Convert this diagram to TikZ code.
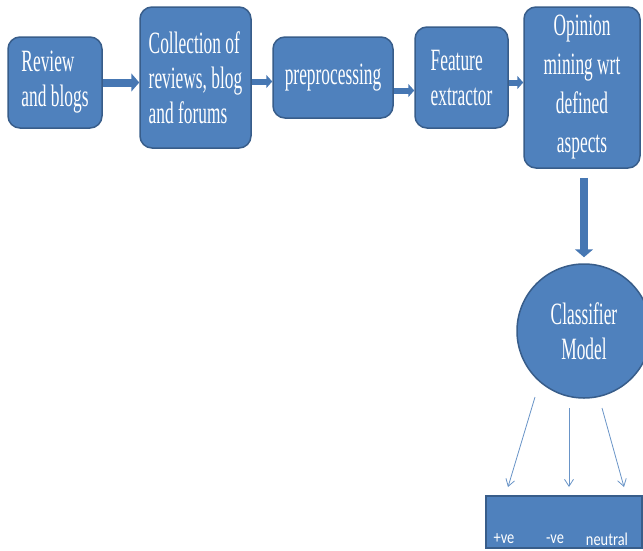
\documentclass[tikz,border=0pt]{standalone}
\usepackage{fontspec}
\usepackage{tikz}
\usetikzlibrary{arrows.meta,positioning,calc}
\newfontfamily\boxfont[FakeStretch=0.56]{Liberation Serif}
\newfontfamily\tagfont[FakeStretch=0.8]{Carlito}
\definecolor{boxblue}{HTML}{4F81BD}
\definecolor{edgeblue}{HTML}{385D8A}
\definecolor{flowblue}{HTML}{4677B3}

\begin{document}
\begin{tikzpicture}[x=1pt,y=-1pt,>=Latex,
  stage/.style={draw=edgeblue,line width=1.5pt,fill=boxblue,rounded corners=12pt,
    text=white,font=\boxfont\fontsize{31}{35}\selectfont,align=left,inner sep=0pt},
  bigflow/.style={draw=flowblue,line width=8pt,-{Triangle[length=8pt,width=18pt]}},
  flow/.style={draw=flowblue,line width=6pt,-{Triangle[length=6pt,width=13pt]}},
  split/.style={draw=boxblue!85,line width=0.8pt,-{Straight Barb[length=7pt,width=9pt]}},
  tag/.style={text=white,font=\tagfont\fontsize{18}{19}\selectfont,inner sep=0pt}]
  \useasboundingbox (0,0) rectangle (643,550);
  % Pipeline
  \node[stage,minimum width=94pt,minimum height=91pt] (review) at (55,82.5) {Review\\and blogs};
  \node[stage,minimum width=111pt,minimum height=141pt] (collect) at (195.5,77.5) {Collection of\\reviews, blog\\and forums};
  \node[stage,minimum width=120pt,minimum height=81pt] (prep) at (333,77.5) {preprocessing};
  \node[stage,minimum width=93pt,minimum height=101pt] (feat) at (461.5,77.5) {Feature\\extractor};
  \node[stage,align=center,font=\boxfont\fontsize{31}{39}\selectfont,
    minimum width=116pt,minimum height=161pt] (opinion) at (582,87.5) {Opinion\\mining wrt\\defined\\aspects};
  \coordinate (c2) at ([yshift=-4pt]collect.east);
  \coordinate (c3) at ([yshift=-13pt]prep.east);
  \coordinate (c4) at ([yshift=-5pt]feat.east);
  \draw[bigflow] (review.east) -- (review.east -| collect.west);
  \draw[flow] (c2) -- (c2 -| prep.west);
  \draw[flow] (c3) -- (c3 -| feat.west);
  \draw[flow] (c4) -- (c4 -| opinion.west);
  % Classifier
  \node[stage,circle,rounded corners=0pt,align=center,minimum size=134pt] (clf) at (584,331) {Classifier\\Model};
  \draw[bigflow,shorten <=9pt,shorten >=6pt] (clf.north |- opinion.south) -- (clf.north);
  % Output classes
  \node[draw=edgeblue,fill=boxblue,line width=1.5pt,minimum width=156pt,minimum height=52pt] (result) at (564,522) {};
  \node[tag] (pos) at (504,539) {+ve};
  \node[tag] (neg) at (555,539) {-ve};
  \node[tag] (neu) at (607,539) {neutral};
  \coordinate (s1) at (535,397);
  \coordinate (s2) at (569,408);
  \coordinate (s3) at (602,408);
  \coordinate (t1) at (508,487);
  \coordinate (t2) at (569,487);
  \coordinate (t3) at (624,487);
  \draw[split] (s1) -- (t1);
  \draw[split] (s2) -- (t2);
  \draw[split] (s3) -- (t3);
\end{tikzpicture}
\end{document}
